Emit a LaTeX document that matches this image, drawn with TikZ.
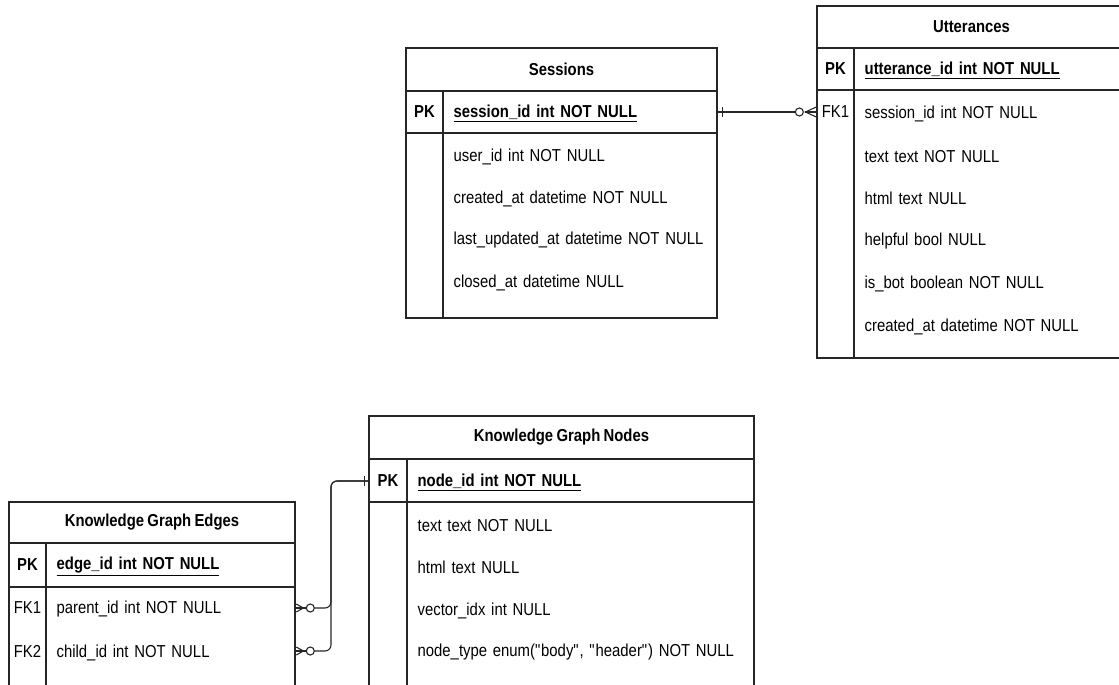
\documentclass[tikz,border=0pt]{standalone}
\usepackage{fontspec}
\setmainfont{Liberation Sans}[FakeStretch=0.86,WordSpace=0.8]
\begin{document}
\begin{tikzpicture}[x=1pt,y=-1pt,line width=1.3pt,color={black!85},
  every node/.style={font=\fontsize{17.3}{20}\selectfont, inner sep=0pt, text=black},
  ttl/.style={font=\fontsize{17.3}{20}\selectfont\bfseries},
  keycell/.style={minimum width=37pt, minimum height=42pt},
  pkkey/.style={keycell, font=\fontsize{17.3}{20}\selectfont\bfseries},
  fld/.style={anchor=west, minimum height=42pt, inner xsep=10pt, text width=#1, align=left, yshift=-1.5pt},
  pkfld/.style={fld=#1, font=\fontsize{17.3}{20}\selectfont\bfseries},
  crow/.style={line width=1.1pt}
]
\useasboundingbox (0,0) rectangle (1119,685);
\clip (0,0) rectangle (1119,685);

% ---------------- Sessions ----------------
\draw (406,48) rectangle (717,318);
\draw (406,91) -- (717,91) (406,133) -- (717,133) (443,91) -- (443,318);
\node[ttl] (sesT) at (561.5,69.5) {Sessions};
\node[pkkey] (sesPKk) at (424.5,112) {PK};
\node[pkfld=254pt] (sesPK) at (443,112) {\underline{session\_id int NOT NULL}};
\node[fld=254pt] (ses1) at (443,155) {user\_id int NOT NULL};
\node[fld=254pt] (ses2) at (443,197) {created\_at datetime NOT NULL};
\node[fld=254pt] (ses3) at (443,239) {last\_updated\_at datetime NOT NULL};
\node[fld=254pt] (ses4) at (443,281) {closed\_at datetime NULL};

% ---------------- Utterances ----------------
\draw (817,6) rectangle (1126,358);
\draw (817,48) -- (1126,48) (817,90) -- (1126,90) (854,48) -- (854,358);
\node[ttl] (uttT) at (971.5,27) {Utterances};
\node[pkkey] (uttPKk) at (835.5,69) {PK};
\node[pkfld=252pt] (uttPK) at (854,69) {\underline{utterance\_id int NOT NULL}};
\node[keycell] (uttFK1) at (835.5,112) {FK1};
\node[fld=252pt] (utt1) at (854,112) {session\_id int NOT NULL};
\node[fld=252pt] (utt2) at (854,155) {text text NOT NULL};
\node[fld=252pt] (utt3) at (854,197) {html text NULL};
\node[fld=252pt] (utt4) at (854,240) {helpful bool NULL};
\node[fld=252pt] (utt5) at (854,282) {is\_bot boolean NOT NULL};
\node[fld=252pt] (utt6) at (854,325) {created\_at datetime NOT NULL};

% ---------------- Knowledge Graph Edges ----------------
\draw (9,720) -- (9,502) -- (295,502) -- (295,720);
\draw (9,543) -- (295,543) (9,587) -- (295,587) (46,543) -- (46,720);
\node[ttl] (edgT) at (152,522.5) {Knowledge Graph Edges};
\node[pkkey] (edgPKk) at (27.5,565) {PK};
\node[pkfld=229pt] (edgPK) at (46,565) {\underline{edge\_id int NOT NULL}};
\node[keycell] (edgFK1k) at (27.5,608) {FK1};
\node[fld=229pt] (edgF1) at (46,608) {parent\_id int NOT NULL};
\node[keycell] (edgFK2k) at (27.5,651) {FK2};
\node[fld=229pt] (edgF2) at (46,651) {child\_id int NOT NULL};

% ---------------- Knowledge Graph Nodes ----------------
\draw (369,720) -- (369,416) -- (754,416) -- (754,720);
\draw (369,459) -- (754,459) (369,502) -- (754,502) (407,459) -- (407,720);
\node[ttl] (kgnT) at (561.5,437.5) {Knowledge Graph Nodes};
\node[pkkey,minimum width=38pt] (kgnPKk) at (388,481) {PK};
\node[pkfld=327pt] (kgnPK) at (407,481) {\underline{node\_id int NOT NULL}};
\node[fld=327pt] (kgn1) at (407,524) {text text NOT NULL};
\node[fld=327pt] (kgn2) at (407,566) {html text NULL};
\node[fld=327pt] (kgn3) at (407,609) {vector\_idx int NULL};
\node[fld=327pt] (kgn4) at (407,651) {node\_type enum(\textquotedbl body\textquotedbl, \textquotedbl header\textquotedbl) NOT NULL};

% ---------------- Sessions -> Utterances ----------------
\draw[crow] (sesPKk.east -| sesPK.east) -- ([xshift=-21pt]uttFK1.west);
\draw[crow] ([xshift=4pt,yshift=5pt]sesPKk.east -| sesPK.east) -- ([xshift=4pt,yshift=-5pt]sesPKk.east -| sesPK.east);
\draw[crow] ([xshift=-17pt]uttFK1.west) circle[radius=4pt];
\draw[crow] ([yshift=5pt]uttFK1.west) -- ([xshift=-11pt]uttFK1.west) -- ([yshift=-5pt]uttFK1.west);
\draw[crow] ([xshift=-11pt]uttFK1.west) -- (uttFK1.west);

% ---------------- Edges -> Nodes ----------------
\coordinate (bend) at (331,481);
\draw[crow,rounded corners=6pt] (edgFK1k.east -| edgF1.east) ++(18,0) -| (bend) -- (kgnPKk.west);
\draw[crow,rounded corners=6pt] (edgFK2k.east -| edgF2.east) ++(18,0) -| (bend) -- (kgnPKk.west);
\draw[crow] ([xshift=-4pt,yshift=5pt]kgnPKk.west) -- ([xshift=-4pt,yshift=-5pt]kgnPKk.west);
\foreach \k/\r in {edgFK1k/edgF1,edgFK2k/edgF2}{
  \coordinate (e) at (\k.east -| \r.east);
  \draw[crow] ([xshift=14pt]e) circle[radius=4pt];
  \draw[crow] ([yshift=4pt]e) -- ([xshift=7pt]e) -- ([yshift=-4pt]e);
  \draw[crow] (e) -- ([xshift=10pt]e);
}
\end{tikzpicture}
\end{document}
